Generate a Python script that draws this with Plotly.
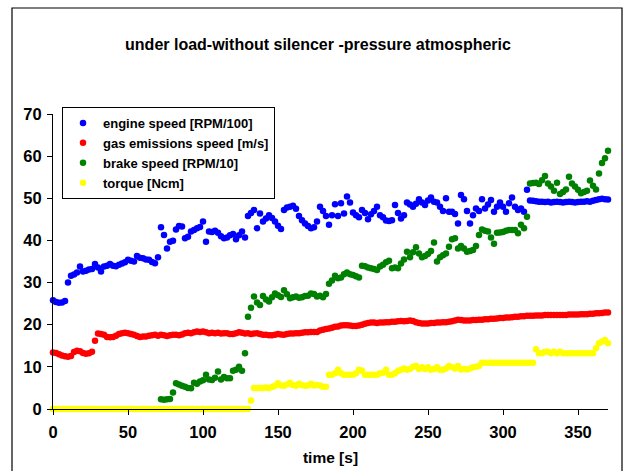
import plotly.graph_objects as go

time_s = list(range(0, 371, 2))

engine_speed = [
    25.8, 25.4, 25.2, 25.3, 25.6, 30.0, 31.6, 31.9, 32.4, 33.8,
    32.6, 32.8, 33.1, 33.2, 34.4, 33.6, 32.6, 33.8, 34.0, 34.4,
    34.0, 33.9, 34.2, 34.5, 34.8, 35.4, 35.2, 35.0, 36.3, 35.9,
    35.8, 35.5, 35.4, 34.9, 34.6, 36.0, 43.1, 41.3, 38.1, 39.7,
    39.9, 42.6, 43.4, 43.3, 40.5, 40.9, 42.1, 42.5, 42.9, 43.2,
    44.5, 39.7, 42.1, 42.0, 42.3, 41.8, 41.0, 40.5, 40.7, 41.2,
    41.5, 40.3, 41.2, 42.1, 40.7, 45.8, 46.5, 47.2, 42.9, 46.4,
    44.5, 45.2, 46.0, 45.3, 44.5, 43.5, 42.7, 47.2, 47.8, 48.0,
    48.2, 47.5, 45.8, 44.8, 44.0, 43.4, 42.9, 43.1, 44.5, 48.0,
    47.0, 45.8, 43.7, 46.0, 48.6, 45.8, 48.8, 46.4, 50.4, 49.0,
    46.6, 46.0, 45.5, 47.2, 46.5, 45.0, 46.2, 47.0, 48.0, 46.0,
    45.5, 44.7, 44.6, 44.8, 48.4, 46.5, 45.2, 46.0, 49.0, 48.5,
    48.0, 48.7, 49.8, 49.0, 48.4, 49.5, 50.2, 49.2, 49.0, 48.0,
    47.0, 50.0, 46.8, 46.8, 46.3, 44.0, 50.8, 49.8, 47.0, 44.0,
    46.0, 47.6, 47.0, 49.8, 47.6, 48.5, 49.6, 46.8, 48.0, 49.0,
    48.0, 46.8, 48.8, 50.2, 48.0, 47.2, 47.6, 46.8, 52.0, 49.5,
    49.4, 49.3, 49.2, 49.2, 49.1, 49.2, 49.0, 49.1, 49.2, 49.1,
    49.0, 49.1, 49.2, 49.1, 49.0, 49.1, 49.2, 49.2, 49.3, 49.2,
    49.4, 49.6, 49.8, 49.9, 49.8, 49.7,
]

gas_speed = [
    13.4, 13.3, 13.0, 12.7, 12.5, 12.4, 12.6, 13.5, 13.8, 13.7,
    13.3, 13.1, 13.2, 13.6, 16.2, 17.9, 17.8, 17.6, 17.1, 17.0,
    17.1, 17.4, 17.8, 18.0, 18.1, 18.0, 17.8, 17.6, 17.3, 17.1,
    17.2, 17.2, 17.4, 17.5, 17.6, 17.4, 17.6, 17.5, 17.3, 17.5,
    17.6, 17.6, 17.5, 17.7, 18.0, 18.1, 18.0, 18.2, 18.4, 18.3,
    18.4, 18.2, 18.0, 18.1, 18.0, 18.1, 17.9, 18.0, 18.0, 17.8,
    17.8, 18.0, 18.2, 18.1, 17.9, 18.0, 17.8, 17.9, 18.0, 17.8,
    17.6, 17.6, 17.5, 17.5, 17.6, 17.8, 17.7, 17.6, 17.8, 17.9,
    17.9, 18.0, 18.0, 18.1, 18.2, 18.2, 18.3, 18.3, 18.3, 18.6,
    18.8, 19.0, 19.1, 19.3, 19.5, 19.6, 19.8, 19.9, 19.9, 19.8,
    19.7, 19.7, 19.8, 20.0, 20.2, 20.4, 20.5, 20.5, 20.4, 20.5,
    20.5, 20.6, 20.6, 20.7, 20.7, 20.8, 20.9, 20.8, 20.9, 21.0,
    20.9, 20.6, 20.4, 20.3, 20.3, 20.3, 20.4, 20.4, 20.5, 20.5,
    20.6, 20.6, 20.7, 20.8, 21.0, 21.2, 21.1, 21.0, 21.0, 21.0,
    21.1, 21.1, 21.2, 21.2, 21.3, 21.3, 21.4, 21.4, 21.5, 21.6,
    21.6, 21.7, 21.7, 21.8, 21.9, 21.9, 22.0, 22.0, 22.1, 22.1,
    22.1, 22.2, 22.2, 22.2, 22.3, 22.3, 22.3, 22.3, 22.3, 22.3,
    22.3, 22.3, 22.4, 22.4, 22.4, 22.4, 22.5, 22.5, 22.5, 22.6,
    22.6, 22.7, 22.7, 22.8, 22.9, 22.9,
]

brake_speed = [None] * 36 + [
    2.3, 2.2, 2.3, 2.4,
    3.9, 6.1, 5.8, 5.5, 5.3, 5.0, 4.9, 6.2, 6.0, 6.5,
    6.8, 8.1, 7.0, 6.9, 7.4, 8.9, 7.0, 7.6, 7.3, 7.3,
    9.1, 9.3, 10.0, 9.1, 13.2, 21.9, 24.0, 26.7, 25.3, 24.7,
    26.8, 26.0, 25.5, 26.5, 27.4, 27.0, 26.6, 28.2, 27.2, 26.3,
    26.5, 26.7, 26.4, 26.5, 26.8, 26.9, 27.4, 27.3, 26.7, 26.9,
    26.5, 27.3, 29.7, 30.5, 31.6, 31.0, 31.2, 32.0, 32.4, 32.0,
    31.8, 31.5, 31.2, 34.0, 33.9, 33.6, 33.4, 33.2, 33.0, 33.8,
    34.2, 34.8, 35.2, 33.4, 33.6, 33.4, 34.5, 35.5, 37.3, 36.0,
    37.2, 38.4, 36.9, 36.0, 36.3, 36.8, 37.5, 39.5, 35.0, 36.0,
    36.5, 36.9, 38.5, 40.3, 40.5, 38.1, 38.7, 38.1, 37.3, 37.5,
    37.7, 38.7, 41.3, 42.6, 42.3, 42.1, 40.7, 39.2, 41.8, 41.9,
    42.0, 42.3, 42.5, 42.5, 42.5, 41.7, 43.7, 42.9, 45.6, 53.5,
    53.6, 53.7, 53.4, 54.3, 55.3, 53.5, 52.8, 51.8, 53.7, 51.0,
    51.5, 52.1, 55.1, 53.5, 52.8, 52.0, 51.2, 51.5, 51.8, 54.2,
    53.0, 52.1, 55.9, 58.4, 59.5, 61.3,
]

torque = [0.0] * 66 + [
    2.0, 5.0, 5.0, 5.0,
    5.0, 5.1, 5.0, 5.2, 5.5, 6.1, 5.6, 5.5, 5.8, 6.2,
    5.7, 5.5, 6.0, 5.7, 5.5, 5.6, 6.0, 5.6, 5.7, 5.6,
    5.3, 5.3, 8.1, 8.1, 8.5, 9.3, 8.5, 8.1, 8.1, 8.1,
    8.1, 8.5, 9.3, 9.1, 8.1, 8.1, 8.1, 8.1, 8.1, 8.5,
    8.6, 9.3, 8.1, 8.1, 8.5, 9.0, 9.3, 9.6, 9.3, 9.5,
    10.0, 10.2, 9.5, 9.9, 9.5, 9.9, 9.3, 9.5, 9.9, 9.3,
    9.3, 9.6, 10.2, 9.9, 9.6, 10.2, 9.4, 9.5, 9.4, 9.6,
    9.9, 10.0, 10.2, 11.0, 11.0, 11.0, 11.0, 11.0, 11.0, 11.0,
    11.0, 11.0, 11.0, 11.0, 11.0, 11.0, 11.0, 11.0, 11.0, 11.0,
    11.0, 14.2, 13.2, 13.2, 13.6, 13.6, 13.2, 13.6, 13.2, 13.6,
    13.2, 13.2, 13.2, 13.2, 13.2, 13.2, 13.2, 13.2, 13.2, 13.2,
    13.2, 14.4, 15.6, 16.0, 16.4, 15.6,
]

series_names = ["engine speed [RPM/100]", "gas emissions speed [m/s]",
                "brake speed [RPM/10]", "torque [Ncm]"]
series_colors = ["#0000FF", "#FF0000", "#008000", "#FFFF00"]
series_values = [engine_speed, gas_speed, brake_speed, torque]

x_ticks = [0, 50, 100, 150, 200, 250, 300, 350]
y_ticks = [0, 10, 20, 30, 40, 50, 60, 70]

FONT = "Liberation Sans, Arial, sans-serif"

fig = go.Figure()
for name, color, vals in zip(series_names, series_colors, series_values):
    fig.add_trace(go.Scatter(
        x=time_s, y=vals, name=name, mode="markers",
        marker=dict(color=color, size=6.5, line=dict(width=0)),
        cliponaxis=False,
    ))

fig.update_layout(
    width=623, height=471,
    margin=dict(l=53, r=15, t=114, b=62),
    paper_bgcolor="white", plot_bgcolor="white",
    font=dict(family=FONT, color="black"),
    title=dict(text="under load-without silencer -pressure atmospheric",
               x=(318 - 53) / 555, xref="paper", xanchor="center",
               y=1 - 44 / 471, yref="container", yanchor="middle",
               font=dict(family=FONT, size=16, weight="bold", color="black")),
    showlegend=True,
    legend=dict(x=(62 - 53) / 555, y=(409 - 107) / 295, xanchor="left", yanchor="top",
                bgcolor="white", bordercolor="black", borderwidth=1,
                font=dict(family=FONT, size=13, weight="bold", color="black"),
                itemwidth=30, tracegroupgap=0),
    xaxis=dict(range=[0, 370], tickvals=x_ticks, showgrid=False, zeroline=False,
               showline=True, linecolor="black", linewidth=1, automargin=False,
               ticks="outside", ticklen=5, tickcolor="black", ticklabelstandoff=3,
               tickfont=dict(family=FONT, size=16.5, weight="bold", color="black"),
               title=dict(text="time [s]", standoff=12,
                          font=dict(family=FONT, size=15.5, weight="bold", color="black"))),
    yaxis=dict(range=[0, 70], tickvals=y_ticks, showgrid=False, zeroline=False,
               showline=True, linecolor="black", linewidth=1, automargin=False,
               ticks="outside", ticklen=5, tickcolor="black", ticklabelstandoff=2,
               tickfont=dict(family=FONT, size=16.5, weight="bold", color="black")),
    shapes=[dict(type="rect", xref="paper", yref="paper",
                 x0=(12 - 53) / 555, x1=(622 - 53) / 555,
                 y0=(409 - 480) / 295, y1=(409 - 8) / 295,
                 line=dict(color="black", width=1.2), fillcolor="rgba(0,0,0,0)",
                 layer="below")],
)

fig.write_html("out.html")
